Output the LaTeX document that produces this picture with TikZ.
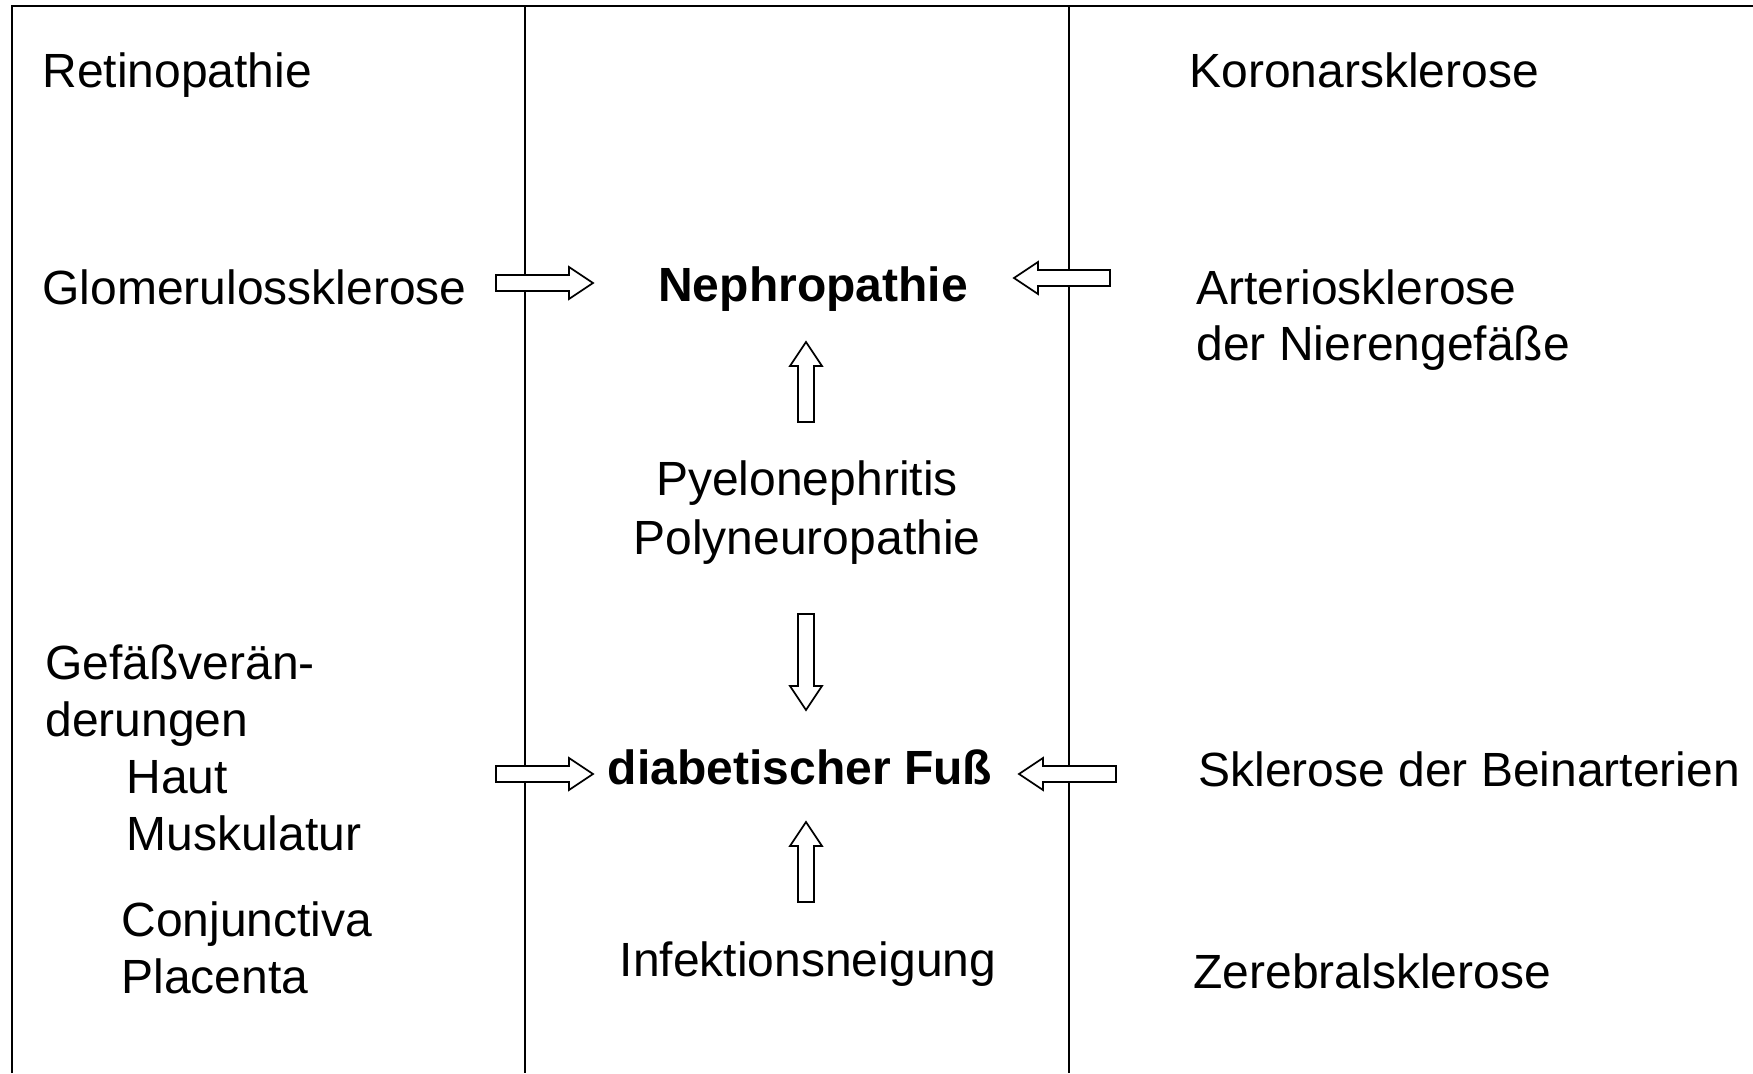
\documentclass[tikz,border=0pt]{standalone}
\usepackage{fontspec}
\setmainfont{Liberation Sans}
\begin{document}
\begin{tikzpicture}[x=0.5pt,y=-0.5pt,
  frame/.style={line width=0.8pt},
  lbl/.style={inner sep=0pt, font=\fontsize{24}{28.5}\selectfont, text height=0.716em, text depth=0.21em},
  lw/.style={lbl, anchor=west},
  lc/.style={lbl, anchor=center},
  barrowstyle/.style={line width=0.85pt, fill=white, line join=miter}]
\newcommand\barrow[3]{%
  \begin{scope}[shift={(#1)}, rotate=#2]
    \draw[barrowstyle] (0,-8) -- (#3-24,-8) -- (#3-24,-16) -- (#3,0) -- (#3-24,16) -- (#3-24,8) -- (0,8) -- cycle;
  \end{scope}}
\useasboundingbox (0,0) rectangle (1753,1073);
% frame
\draw[frame] (12,1073) -- (12,6) -- (1753,6);
\draw[frame] (525,6) -- (525,1073);
\draw[frame] (1069,6) -- (1069,1073);
% left column
\node[lw] (reti) at (42,82) {Retinopathie};
\node[lw] (glom) at (42,299) {Glomerulossklerose};
\node[lw] (gef1) at (45,674) {Gefäßverän-};
\node[lw] (gef2) at (45,731) {derungen};
\node[lw] (haut) at (126,788) {Haut};
\node[lw] (musk) at (126,845) {Muskulatur};
\node[lw] (conj) at (121,931) {Conjunctiva};
\node[lw] (plac) at (121,988) {Placenta};
% middle column
\node[lc, font=\fontsize{24}{28.5}\selectfont\bfseries] (neph) at (813,296) {Nephropathie};
\node[lc] (pyel) at (807,490) {Pyelonephritis};
\node[lc] (poly) at (807,549) {Polyneuropathie};
\node[lc, font=\fontsize{24}{28.5}\selectfont\bfseries] (fuss) at (800,779) {diabetischer Fuß};
\node[lc] (infe) at (808,971) {Infektionsneigung};
% right column
\node[lw] (koro) at (1189,82) {Koronarsklerose};
\node[lw] (arte1) at (1196,299) {Arteriosklerose};
\node[lw] (arte2) at (1196,355) {der Nierengefäße};
\node[lw] (bein) at (1198,781) {Sklerose der Beinarterien};
\node[lw] (zere) at (1193,983) {Zerebralsklerose};
% block arrows
\coordinate (a1) at (496,283);
\coordinate (a2) at (1110,278);
\coordinate (a3) at (806,422);
\coordinate (a4) at (806,614);
\coordinate (a5) at (496,774);
\coordinate (a6) at (1116,774);
\coordinate (a7) at (806,902);
\barrow{a1}{0}{97}
\barrow{a2}{180}{96}
\barrow{a3}{90}{80}
\barrow{a4}{-90}{96}
\barrow{a5}{0}{97}
\barrow{a6}{180}{97}
\barrow{a7}{90}{80}
\end{tikzpicture}
\end{document}
